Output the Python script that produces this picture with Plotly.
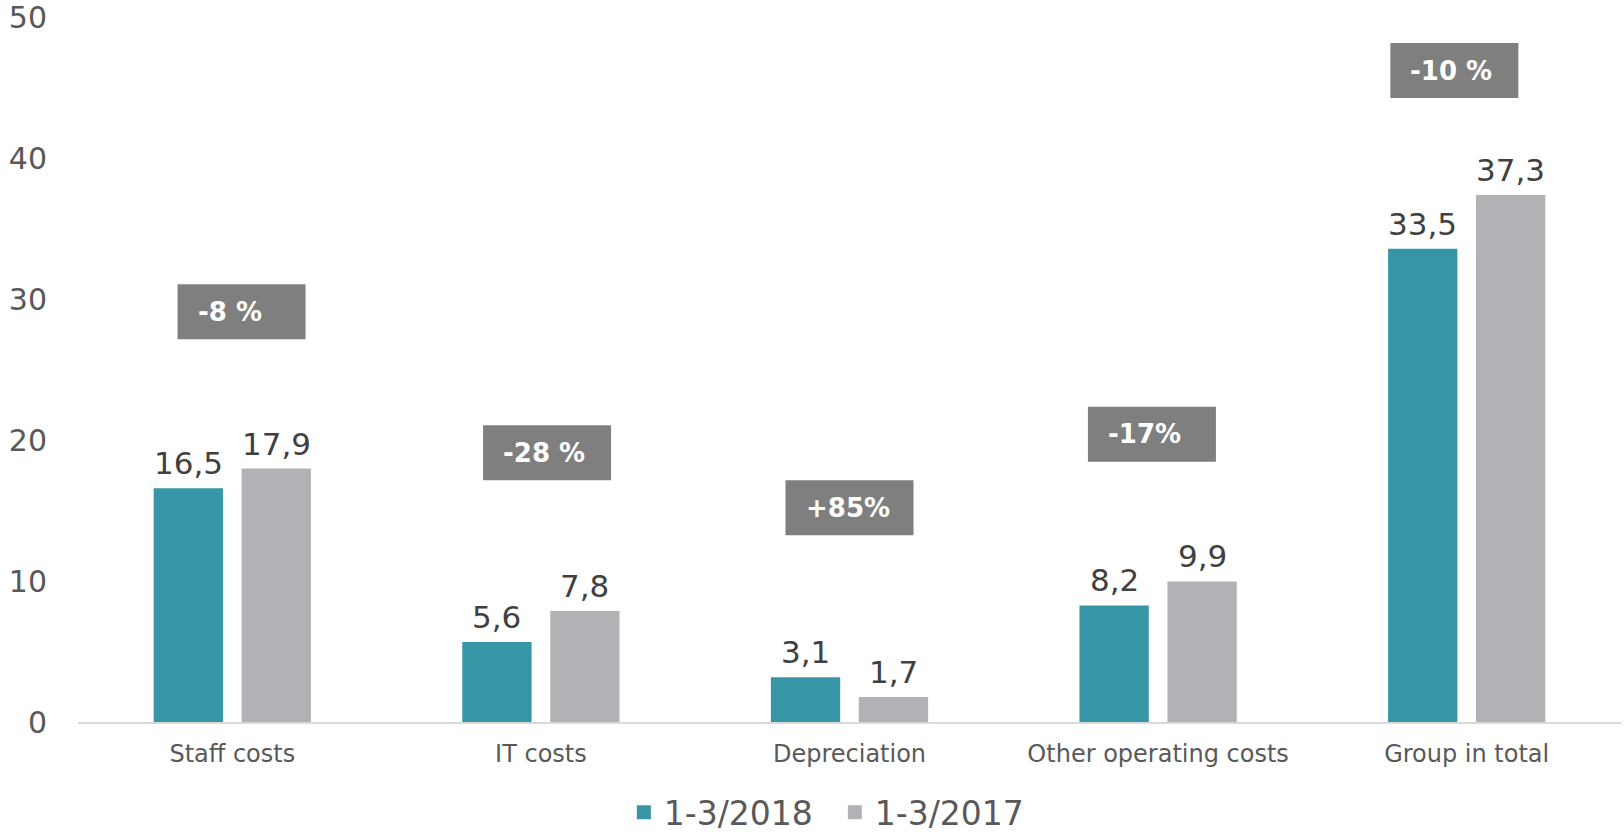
import plotly.graph_objects as go

categories = ["Staff costs", "IT costs", "Depreciation", "Other operating costs", "Group in total"]
series_2018 = [16.5, 5.6, 3.1, 8.2, 33.5]
series_2017 = [17.9, 7.8, 1.7, 9.9, 37.3]
change_labels = ["-8 %", "-28 %", "+85%", "-17%", "-10 %"]
change_label_y = [29.1, 19.1, 15.2, 20.4, 46.2]
change_label_x = [0.03, 1.02, 2.0, 2.98, 3.96]
y_ticks = [0, 10, 20, 30, 40, 50]

TEAL = "rgb(55,150,166)"
GREY = "rgb(177,178,182)"
BOX = "rgb(127,127,127)"
FONT = "DejaVu Sans"
BARGAP = 0.43
BARGROUPGAP = 0.235

fig = go.Figure()
fig.add_trace(go.Bar(name="1-3/2018", x=categories, y=series_2018,
                     marker=dict(color=TEAL, line=dict(color=TEAL, width=2))))
fig.add_trace(go.Bar(name="1-3/2017", x=categories, y=series_2017,
                     marker=dict(color=GREY, line=dict(color=GREY, width=2))))

# value labels placed above each bar (bar centres derived from group layout)
half = (1 - BARGAP) / 4
for i, (a, b) in enumerate(zip(series_2018, series_2017)):
    for xv, v in ((i - half, a), (i + half, b)):
        fig.add_annotation(x=xv, y=v, xref="x", yref="y", text=f"{v:.1f}".replace(".", ","),
                           showarrow=False, xanchor="center", yanchor="bottom", yshift=6,
                           font=dict(size=31, color="#404040", family=FONT))

for xv, yv, t in zip(change_label_x, change_label_y, change_labels):
    fig.add_shape(type="rect", xref="x", yref="y", xsizemode="pixel", ysizemode="pixel",
                  xanchor=xv, yanchor=yv, x0=-64, x1=64, y0=-27.5, y1=27.5,
                  fillcolor=BOX, line=dict(width=0), layer="above")
    fig.add_annotation(x=xv, y=yv, xref="x", yref="y", text="<b>" + t + "</b>",
                       showarrow=False, xanchor="left", yanchor="middle", xshift=-46,
                       font=dict(size=26, color="white", family=FONT))

fig.update_layout(
    width=1624, height=832,
    margin=dict(l=78, r=3, t=17, b=110, autoexpand=False),
    plot_bgcolor="white", paper_bgcolor="white",
    barmode="group", bargap=BARGAP, bargroupgap=BARGROUPGAP,
    separators=", ",
    font=dict(family=FONT, color="#595959"),
    showlegend=True,
    legend=dict(orientation="h", x=0.4905, xanchor="center", y=-0.128, yanchor="middle",
                font=dict(size=33, color="#595959", family=FONT), traceorder="normal",
                itemclick=False, entrywidth=166, entrywidthmode="pixels"),
    xaxis=dict(showgrid=False, showline=True, linecolor="#d9d9d9", linewidth=2,
               tickfont=dict(size=24, color="#595959", family=FONT), ticks="",
               ticklabelstandoff=9),
    yaxis=dict(range=[0, 50], tickvals=y_ticks, showgrid=False, zeroline=False, showline=False,
               tickfont=dict(size=30, color="#595959", family=FONT), ticklabelstandoff=30,
               ticklabeloverflow="allow"),
)

fig.write_html("out.html", config={"displayModeBar": False},
               post_script="document.body.style.margin='0';")
